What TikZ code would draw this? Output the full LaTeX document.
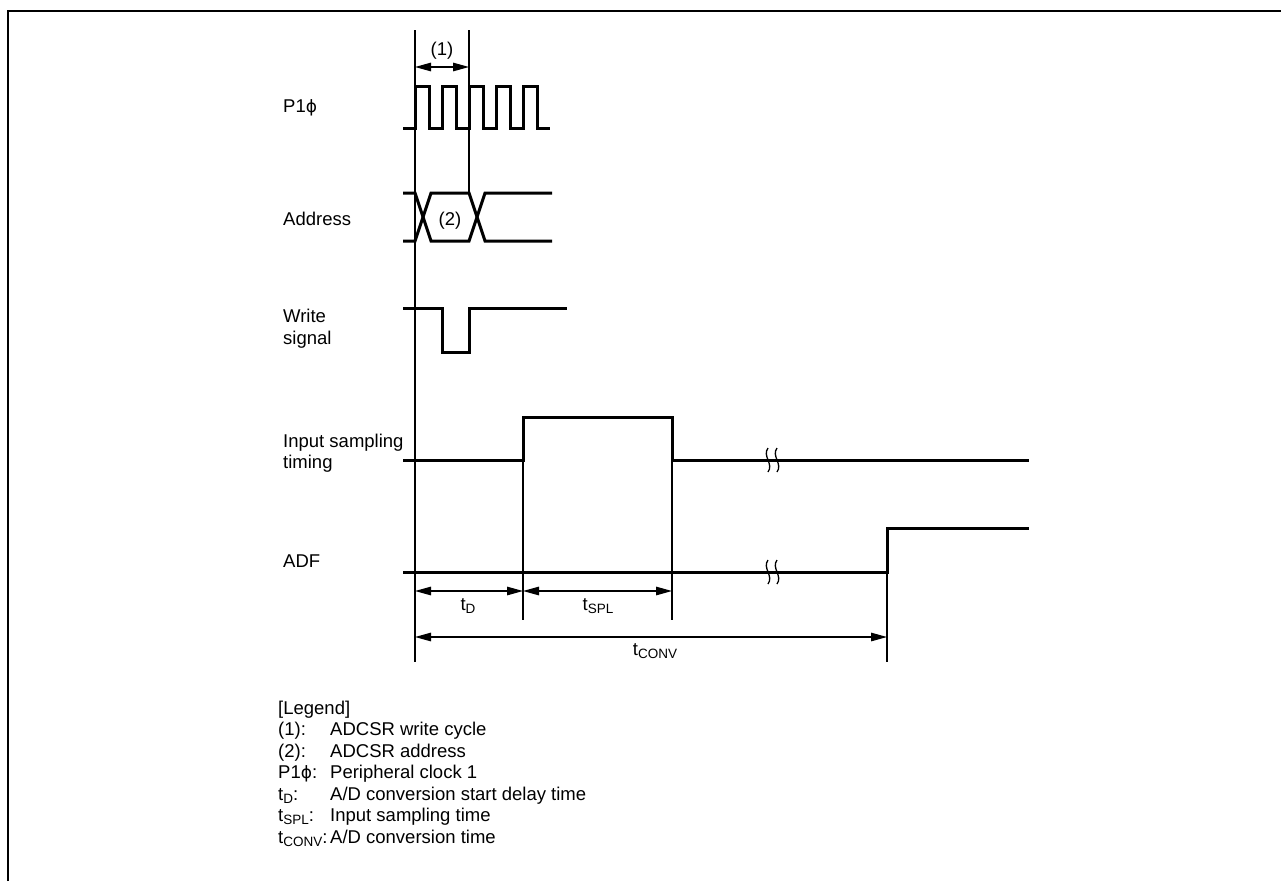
\documentclass[tikz,border=0pt]{standalone}
\usepackage{fontspec}
\setmainfont{Liberation Sans}
\newfontfamily\dvs[Scale=0.92]{DejaVu Sans}
\usetikzlibrary{arrows.meta}
\newcommand\sbs[1]{\raisebox{-0.4ex}{\fontsize{13.5}{13.5}\selectfont #1}}
\newcommand\myphi{{\dvs ϕ}}
\begin{document}
\begin{tikzpicture}[x=1pt,y=-1pt,
  sig/.style={line width=3pt, line join=miter},
  refl/.style={line width=1.3pt},
  brk/.style={line width=1.3pt},
  dimarrow/.style={line width=1.3pt, {Triangle[length=16pt,width=8.5pt]}-{Triangle[length=16pt,width=8.5pt]}},
  lbl/.style={anchor=base west, inner sep=0pt, font=\fontsize{18.5}{22}\selectfont},
  clbl/.style={anchor=base, inner sep=0pt, font=\fontsize{18.5}{22}\selectfont}]
\useasboundingbox (0,0) rectangle (1281,881);
% frame
\draw[line width=2.4pt] (8,881) -- (8,11) -- (1281,11);

% reference lines
\coordinate (v1t) at (415,30);  \coordinate (v1b) at (415,662);
\coordinate (v2t) at (469,30);  \coordinate (v2b) at (469,193);
\coordinate (v3t) at (523,460); \coordinate (v3b) at (523,620);
\coordinate (v4t) at (672,460); \coordinate (v4b) at (672,620);
\coordinate (v5t) at (887,572); \coordinate (v5b) at (887,662);
\draw[refl] (v1t) -- (v1b);
\draw[refl] (v2t) -- (v2b);
\draw[refl] (v3t) -- (v3b);
\draw[refl] (v4t) -- (v4b);
\draw[refl] (v5t) -- (v5b);

% (1) arrow
\coordinate (a1l) at (415,67); \coordinate (a1r) at (469,67);
\draw[dimarrow] (a1l) -- (a1r);
\node[clbl] (n1) at (442,55) {(1)};

% P1phi clock
\draw[sig] (403,128) -- (415,128) -- (415,86) -- (429,86) -- (429,128) -- (442,128)
  -- (442,86) -- (456,86) -- (456,128) -- (469,128)
  -- (469,86) -- (483,86) -- (483,128) -- (496,128)
  -- (496,86) -- (510,86) -- (510,128) -- (523,128)
  -- (523,86) -- (537,86) -- (537,128) -- (550,128);
\node[lbl] (lp) at (283,112) {P1\myphi};

% Address
\draw[sig] (403,193) -- (415,193) -- (431,241) -- (469,241) -- (485,193) -- (552,193);
\draw[sig] (403,241) -- (415,241) -- (431,193) -- (469,193) -- (485,241) -- (552,241);
\node[clbl] (n2) at (450,225) {(2)};
\node[lbl] (la) at (283,225) {Address};

% Write signal
\draw[sig] (403,308) -- (442,308) -- (442,352) -- (469,352) -- (469,308) -- (567,308);
\node[lbl] (lw1) at (283,322) {Write};
\node[lbl] (lw2) at (283,344) {signal};

% Input sampling timing
\draw[sig] (403,460) -- (523,460) -- (523,417) -- (672,417) -- (672,460) -- (1029,460);
\node[lbl] (li1) at (283,447) {Input sampling};
\node[lbl] (li2) at (283,468) {timing};
\draw[brk] (768,448) .. controls (762,456) and (774,464) .. (768,472);
\draw[brk] (777,448) .. controls (771,456) and (783,464) .. (777,472);

% ADF
\draw[sig] (403,572) -- (887,572) -- (887,528) -- (1029,528);
\node[lbl] (ladf) at (283,567) {ADF};
\draw[brk] (768,560) .. controls (762,568) and (774,576) .. (768,584);
\draw[brk] (777,560) .. controls (771,568) and (783,576) .. (777,584);

% dimensions
\coordinate (d1) at (415,591); \coordinate (d2) at (523,591); \coordinate (d3) at (672,591);
\draw[dimarrow] (d1) -- (d2);
\draw[dimarrow] (d2) -- (d3);
\node[clbl] (ntd) at (468,610) {t\sbs{D}};
\node[clbl] (ntspl) at (598,610) {t\sbs{SPL}};
\coordinate (c1) at (415,637); \coordinate (c2) at (887,637);
\draw[dimarrow] (c1) -- (c2);
\node[clbl] (ntconv) at (655,655) {t\sbs{CONV}};

% legend
\node[lbl] (lg0) at (278,714) {[Legend]};
\node[lbl] (lg1) at (278,735) {(1):};
\node[lbl] (lg2) at (278,757) {(2):};
\node[lbl] (lg3) at (278,778) {P1\myphi:};
\node[lbl] (lg4) at (278,800) {t\sbs{D}:};
\node[lbl] (lg5) at (278,821) {t\sbs{SPL}:};
\node[lbl] (lg6) at (278,843) {t\sbs{CONV}:};
\node[lbl] (lt1) at (330,735) {ADCSR write cycle};
\node[lbl] (lt2) at (330,757) {ADCSR address};
\node[lbl] (lt3) at (330,778) {Peripheral clock 1};
\node[lbl] (lt4) at (330,800) {A/D conversion start delay time};
\node[lbl] (lt5) at (330,821) {Input sampling time};
\node[lbl] (lt6) at (330,843) {A/D conversion time};
\end{tikzpicture}
\end{document}
